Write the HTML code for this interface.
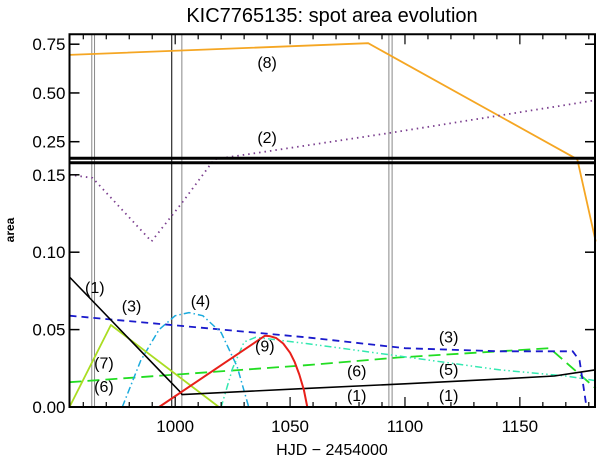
<!DOCTYPE html>
<html><head><meta charset="utf-8"><style>
html,body{margin:0;padding:0;background:#fff;}
svg{display:block;font-family:"Liberation Sans","DejaVu Sans",sans-serif;}
</style></head><body>
<svg id="chart" width="600" height="463" viewBox="0 0 600 463" xmlns="http://www.w3.org/2000/svg">
<text x="332" y="22" font-size="20" text-anchor="middle" fill="#000">KIC7765135: spot area evolution</text>
<text x="14" y="230" font-size="12" font-weight="bold" text-anchor="middle" transform="rotate(-90 14 230)">area</text>
<text x="332" y="455" font-size="16" text-anchor="middle">HJD − 2454000</text>
<g id="grid"></g><g id="series"></g><g id="axes"></g><g id="labels"></g>
</svg>
<script>
const xTicks=[1000,1050,1100,1150];
const yTicksBottom=[0.00,0.05,0.10,0.15];
const yTicksTop=[0.25,0.50,0.75];
const vlines=[963.7,964.9,998.5,1002.9,1093.0,1094.4];
const vlineColors=["#888","#888","#000","#888","#888","#888"];
const s1x=[954,1002,1003,1057,1100,1141,1165,1183];
const s1y=[0.084,0.010,0.008,0.012,0.015,0.018,0.020,0.024];
const s1bx=[1003,1183];
const s1by=[0,0];
const s2x=[954,964,989.7,1003,1017,1093,1183];
const s2y=[0.150,0.148,0.107,0.132,0.16,0.294,0.463];
const s3x=[954,1057,1100,1141,1173,1176,1179];
const s3y=[0.059,0.045,0.038,0.036,0.036,0.030,0.0];
const s4x=[977,985,993,1000,1006,1012,1020,1027,1032];
const s4y=[0,0.030,0.050,0.059,0.061,0.059,0.048,0.026,0];
const s5x=[1003,1020,1025,1030,1035,1057,1097,1141,1170,1183];
const s5y=[0,0,0.025,0.042,0.045,0.041,0.033,0.024,0.020,0.017];
const s6x=[954,1057,1097,1163,1183];
const s6y=[0.016,0.027,0.032,0.038,0.012];
const s7x=[954,972,1019,1030];
const s7y=[0,0.053,0,0];
const s8x=[954,1084,1175,1183];
const s8y=[0.695,0.755,0.16,0.107];
const s9x=[954,993,1039,1041,1044,1047,1050,1052,1054,1056,1057.5,1183];
const s9y=[0,0,0.046,0.0458,0.0445,0.041,0.035,0.029,0.021,0.011,0,0];
const labelText=["(8)","(2)","(1)","(3)","(4)","(7)","(6)","(9)","(6)","(1)","(3)","(5)","(1)"];
const labelX=[1040,1040,965,981,1011,969,969,1039,1079,1079,1119,1119,1119];
const labelY=[0.653,0.27,0.077,0.065,0.068,0.028,0.013,0.039,0.023,0.007,0.045,0.024,0.007];

const X0=69.5,X1=595,D0=954,D1=1182.7;
const YB0=407,KB=1548,YT=141.7,KT=195,TOP=34.3;
function xOf(d){return X0+(d-D0)*(X1-X0)/(D1-D0);}
function yOf(v){return v<=0.159?YB0-v*KB:YT-(v-0.25)*KT;}
const NS="http://www.w3.org/2000/svg";
function mk(tag,parent,attrs){const e=document.createElementNS(NS,tag);for(const k in attrs)e.setAttribute(k,attrs[k]);parent.appendChild(e);return e;}
const G=document.getElementById('grid'),S=document.getElementById('series'),A=document.getElementById('axes'),L=document.getElementById('labels');

vlines.forEach((d,i)=>{const l=mk('line',G,{x1:xOf(d),x2:xOf(d),y1:TOP,y2:YB0,stroke:vlineColors[i],'stroke-width':1});

});

function series(xs,ys,color,w,dash,name){
 const p=xs.map((d,i)=>xOf(d).toFixed(1)+','+yOf(ys[i]).toFixed(1)).join(' ');
 const el=mk('polyline',S,{points:p,fill:'none',stroke:color,'stroke-width':w,'stroke-dasharray':dash||'none','stroke-linejoin':'round'});
 
 
}
series(s8x,s8y,'#f5a623',1.8,'', 'series-8');
series(s2x,s2y,'#7b3f8f',1.8,'1.5 4','series-2');
series(s6x,s6y,'#22dd22',1.8,'12 6','series-6');
series(s3x,s3y,'#1a1acc',1.8,'7 5','series-3');
series(s4x,s4y,'#1aaadd',1.5,'7 3 1.5 3','series-4');
series(s5x,s5y,'#33e8b0',1.5,'7 3 1.5 3 1.5 3','series-5');
series(s7x,s7y,'#aadd22',1.8,'','series-7');
series(s1x,s1y,'#000',1.6,'','series-1');
series(s1bx,s1by,'#000',1.6,'','series-1-zero');
series(s9x,s9y,'#e8201a',2,'','series-9');

function ln(x1,y1,x2,y2,w,name){const l=mk('line',A,{x1,y1,x2,y2,stroke:'#000','stroke-width':w});
 
 return l;}
ln(X0,TOP,X0,YB0+1,2,'left-axis');
ln(X1,TOP,X1,YB0+1,2,'right-axis');
ln(X0-1,TOP,X1+1,TOP,2,'top-axis');
ln(X0-1,YB0,X1+1,YB0,2,'bottom-axis');
ln(X0,158.3,X1,158.3,3,'axis-break-top');
ln(X0,162.7,X1,162.7,3,'axis-break-bottom');
for(let d=960;d<=1180;d+=10){const x=xOf(d);const maj=(d%50===0);
 ln(x,YB0,x,YB0-(maj?10:5),1.2,'x-tick');
 ln(x,TOP,x,TOP+(maj?10:5),1.2,'x-tick-top');}
xTicks.forEach(d=>{const t=mk('text',A,{x:xOf(d),y:YB0+25,'font-size':17,'text-anchor':'middle'});t.textContent=d;
 
 });
yTicksBottom.forEach(v=>{const y=yOf(v);ln(X0,y,X0+10,y,1.5,'y-tick');ln(X1,y,X1-10,y,1.5,'y-tick-right');
 const t=mk('text',A,{x:X0-4,y:y+6,'font-size':17,'text-anchor':'end'});t.textContent=v.toFixed(2);
 
 });
yTicksTop.forEach(v=>{const y=yOf(v);ln(X0,y,X0+10,y,1.5,'y-tick');ln(X1,y,X1-10,y,1.5,'y-tick-right');
 const t=mk('text',A,{x:X0-4,y:y+6,'font-size':17,'text-anchor':'end'});t.textContent=v.toFixed(2);
 
 });
labelText.forEach((s,i)=>{const t=mk('text',L,{x:xOf(labelX[i]),y:yOf(labelY[i])+5,'font-size':16,'text-anchor':'middle'});t.textContent=s;
 
 });
</script>
</body></html>
